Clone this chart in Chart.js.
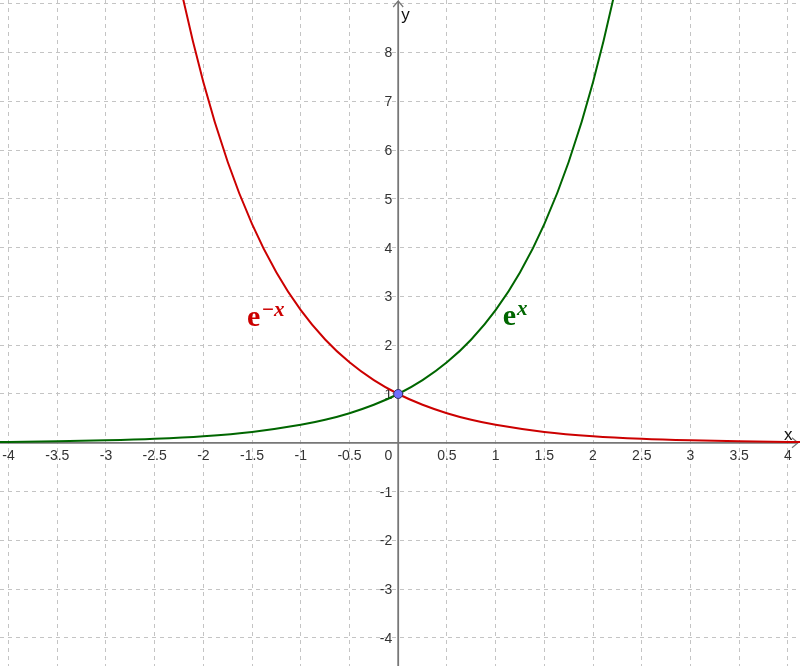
<!DOCTYPE html>
<html>
<head>
<meta charset="utf-8">
<title>e^x e e^-x</title>
<script src="https://cdn.jsdelivr.net/npm/chart.js@4/dist/chart.umd.min.js"></script>
<style>
    body { margin: 0; background: #fff; }
    #wrap { width: 800px; height: 666px; }
</style>
</head>
<body>
<div id="wrap"><canvas id="myChart" width="800" height="666"></canvas></div>
<script>
// --- DATI ---
// curva verde (e^x)
const growthX = [-4.25, -4, -3.5, -3, -2.5, -2, -1.5, -1, -0.75, -0.5, -0.25, 0, 0.25, 0.5, 0.75, 1, 1.25, 1.5, 1.75, 2, 2.25, 2.5];
const growthY = [0.014, 0.018, 0.030, 0.050, 0.082, 0.135, 0.223, 0.368, 0.472, 0.607, 0.779, 1, 1.284, 1.649, 2.117, 2.718, 3.490, 4.482, 5.755, 7.389, 9.488, 12.18];
// curva rossa (e^-x)
const decayX = [-2.5, -2.25, -2, -1.75, -1.5, -1.25, -1, -0.75, -0.5, -0.25, 0, 0.25, 0.5, 0.75, 1, 1.5, 2, 2.5, 3, 3.5, 4, 4.25];
const decayY = [12.18, 9.488, 7.389, 5.755, 4.482, 3.490, 2.718, 2.117, 1.649, 1.284, 1, 0.779, 0.607, 0.472, 0.368, 0.223, 0.135, 0.082, 0.050, 0.030, 0.018, 0.014];
// punto di intersezione
const crossPoint = [{ x: 0, y: 1 }];

// tick degli assi
const xTickStep = 0.5;
const yTickStep = 1;

const toPoints = (xs, ys) => xs.map((x, i) => ({ x, y: ys[i] }));

// --- PLUGIN: assi al centro, frecce, etichette ---
const centerAxes = {
    id: 'centerAxes',
    beforeDatasetsDraw(chart) {
        const { ctx, scales: { x, y } } = chart;
        const x0 = x.getPixelForValue(0);
        const y0 = y.getPixelForValue(0);
        const area = chart.chartArea;

        ctx.save();
        ctx.strokeStyle = '#777';
        ctx.lineWidth = 1.8;
        ctx.beginPath();
        ctx.moveTo(area.left, y0);
        ctx.lineTo(area.right - 2, y0);
        ctx.moveTo(x0, area.bottom);
        ctx.lineTo(x0, area.top + 1);
        ctx.stroke();

        // frecce
        ctx.lineWidth = 1.2;
        ctx.beginPath();
        ctx.moveTo(area.right - 8, y0 - 5);
        ctx.lineTo(area.right - 2, y0);
        ctx.lineTo(area.right - 8, y0 + 5);
        ctx.moveTo(x0 - 5, area.top + 7);
        ctx.lineTo(x0, area.top + 1);
        ctx.lineTo(x0 + 5, area.top + 7);
        ctx.stroke();

        // etichette dei tick
        ctx.fillStyle = '#333';
        ctx.font = '14px "Liberation Sans", Arial, sans-serif';
        ctx.textAlign = 'center';
        ctx.textBaseline = 'alphabetic';
        x.ticks.forEach(t => {
            if (t.value === 0) return;
            ctx.fillText(String(t.value), x.getPixelForValue(t.value), y0 + 17);
        });
        ctx.textAlign = 'right';
        y.ticks.forEach(t => {
            const py = y.getPixelForValue(t.value);
            if (t.value === 0 || py < area.top + 12) return;
            ctx.fillText(String(t.value), x0 - 6, py + 5);
        });
        ctx.fillText('0', x0 - 6, y0 + 17);

        // nomi assi
        ctx.textAlign = 'left';
        ctx.fillStyle = '#111';
        ctx.font = '17px "Liberation Sans", Arial, sans-serif';
        ctx.fillText('x', area.right - 16, y0 - 3);
        ctx.fillText('y', x0 + 3, area.top + 20);
        ctx.restore();
    },
    afterDatasetsDraw(chart) {
        const { ctx, scales: { x, y } } = chart;
        ctx.save();
        // formule
        drawFormula(ctx, x.getPixelForValue(-1.552), y.getPixelForValue(2.393), '\u2212x', '#cc0000');
        drawFormula(ctx, x.getPixelForValue(1.073), y.getPixelForValue(2.404), 'x', '#006600');
        ctx.restore();
    }
};

function drawFormula(ctx, px, py, sup, color) {
    ctx.fillStyle = color;
    ctx.textAlign = 'left';
    ctx.textBaseline = 'alphabetic';
    ctx.font = 'bold 30px "Liberation Serif", serif';
    ctx.fillText('e', px, py);
    const w = ctx.measureText('e').width;
    ctx.font = 'bold italic 21px "Liberation Serif", serif';
    ctx.fillText(sup, px + w + 1, py - 10);
}

document.addEventListener('DOMContentLoaded', () => {
    const ctx = document.getElementById('myChart').getContext('2d');

    new Chart(ctx, {
        type: 'line',
        data: {
            datasets: [
                {
                    label: 'e^-x',
                    data: toPoints(decayX, decayY),
                    borderColor: '#cc0000',
                    borderWidth: 2,
                    pointRadius: 0,
                    cubicInterpolationMode: 'monotone',
                    order: 2
                },
                {
                    label: 'e^x',
                    data: toPoints(growthX, growthY),
                    borderColor: '#006600',
                    borderWidth: 2,
                    pointRadius: 0,
                    cubicInterpolationMode: 'monotone',
                    order: 1
                },
                {
                    label: 'A',
                    data: crossPoint,
                    showLine: false,
                    pointRadius: 4.5,
                    pointBackgroundColor: '#7070ff',
                    pointBorderColor: '#333366',
                    pointBorderWidth: 1,
                    order: 0
                }
            ]
        },
        options: {
            responsive: false,
            animation: false,
            layout: { padding: 0, autoPadding: false },
            plugins: { legend: { display: false }, tooltip: { enabled: false } },
            scales: {
                x: {
                    type: 'linear',
                    min: -4.088,
                    max: 4.125,
                    ticks: { stepSize: xTickStep, includeBounds: false, display: false },
                    grid: { color: '#c4c4c4', lineWidth: 1, drawTicks: false },
                    border: { display: false, dash: [4, 4] }
                },
                y: {
                    type: 'linear',
                    min: -4.574,
                    max: 9.074,
                    ticks: { stepSize: yTickStep, includeBounds: false, display: false },
                    grid: { color: '#c4c4c4', lineWidth: 1, drawTicks: false },
                    border: { display: false, dash: [4, 4] }
                }
            }
        },
        plugins: [centerAxes]
    });
});
</script>
</body>
</html>
